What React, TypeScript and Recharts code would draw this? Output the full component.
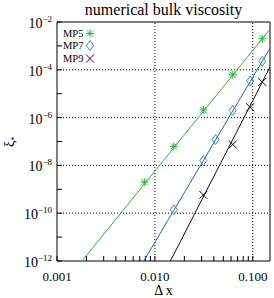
import React from 'react';
import { ReferenceLine, Scatter, ScatterChart, XAxis, YAxis } from 'recharts';

// measured points (Δx, ξ*)
const mp5X = [0.125, 0.0625, 0.03125, 0.015625, 0.0078125];
const mp5Y = [2.0e-3, 6.2e-5, 2.1e-6, 6.3e-8, 2.0e-9];
const mp7X = [0.125, 0.094, 0.0625, 0.0417, 0.03125, 0.015625];
const mp7Y = [2.3e-4, 3.4e-5, 2.0e-6, 1.2e-7, 1.6e-8, 1.4e-10];
const mp9X = [0.125, 0.094, 0.0625, 0.03125];
const mp9Y = [3.1e-5, 2.7e-6, 7.5e-8, 5.8e-10];

// fitted lines, ends read where they meet the frame
const fit5X = [0.0018, 0.15];
const fit5Y = [1e-12, 5e-3];
const fit7X = [0.0077, 0.15];
const fit7Y = [1e-12, 8e-4];
const fit9X = [0.0144, 0.15];
const fit9Y = [1e-12, 1.3e-4];

const xMajor = [0.001, 0.01, 0.1];
const xLabels = ['0.001', '0.010', '0.100'];
const xMinor = [0.002, 0.003, 0.004, 0.005, 0.006, 0.007, 0.008, 0.009, 0.02, 0.03, 0.04, 0.05, 0.06, 0.07, 0.08, 0.09];
const yTicks = [1e-12, 1e-11, 1e-10, 1e-9, 1e-8, 1e-7, 1e-6, 1e-5, 1e-4, 1e-3, 1e-2];
const xGrid = [0.01, 0.1];
const yGrid = [1e-10, 1e-8, 1e-6, 1e-4];
const seriesNames = ['MP5', 'MP7', 'MP9'];

const GREEN = '#30b048';
const BLUE = '#2f62a0';
const BLUE_MARK = '#4f80c0';
const BLACK = '#111';

const W = 274;
const H = 298;
const TICK = -5; // negative: tick marks point into the plot

const toPts = (xs: number[], ys: number[]) => xs.map((x, i) => ({ x, y: ys[i] }));

const Star = ({ cx, cy, color }: any) => (
  <g stroke={color} strokeWidth={1}>
    <line x1={cx - 4} x2={cx + 4} y1={cy} y2={cy} />
    <line x1={cx} x2={cx} y1={cy - 4} y2={cy + 4} />
    <line x1={cx - 3} x2={cx + 3} y1={cy - 3} y2={cy + 3} />
    <line x1={cx - 3} x2={cx + 3} y1={cy + 3} y2={cy - 3} />
  </g>
);
const Diamond = ({ cx, cy, color }: any) => (
  <polygon
    points={`${cx},${cy - 5} ${cx + 3.5},${cy} ${cx},${cy + 5} ${cx - 3.5},${cy}`}
    fill="none"
    stroke={color}
    strokeWidth={1}
  />
);
const Cross = ({ cx, cy, color }: any) => (
  <g stroke={color} strokeWidth={1}>
    <line x1={cx - 4} x2={cx + 4} y1={cy - 4} y2={cy + 4} />
    <line x1={cx - 4} x2={cx + 4} y1={cy + 4} y2={cy - 4} />
  </g>
);

const markers: Record<string, { M: any; color: string }> = {
  MP5: { M: Star, color: GREEN },
  MP7: { M: Diamond, color: BLUE_MARK },
  MP9: { M: Cross, color: BLACK }
};

// labels only; the tick marks are the axis' own tick lines
const BottomLabel = ({ x, y, payload }: any) => {
  const i = xMajor.indexOf(payload.value);
  if (i < 0) return <g />;
  return (
    <text x={x} y={y + 20} textAnchor="middle" fontSize={13} fill="#000">
      {xLabels[i]}
    </text>
  );
};

const LeftLabel = ({ x, y, payload }: any) => {
  const e = Math.round(Math.log10(payload.value));
  if (e % 2 !== 0) return <g />;
  return (
    <text x={x - 5} y={y + 6} textAnchor="end" fill="#000">
      <tspan fontSize={14}>10</tspan>
      <tspan fontSize={9} dy={-6}>{`\u2212${-e}`}</tspan>
    </text>
  );
};

const YLabel = ({ viewBox }: any) => {
  const cy = viewBox.y + viewBox.height / 2;
  return (
    <text transform={`translate(14,${cy}) rotate(-90)`} textAnchor="middle" fill="#000">
      <tspan fontSize={14}>ξ</tspan>
      <tspan fontSize={9} dy={3}>*</tspan>
    </text>
  );
};

export default function App() {
  return (
    <div style={{ position: 'absolute', left: 0, top: 0, width: W, height: H, fontFamily: '"Liberation Serif", serif' }}>
      <ScatterChart width={W} height={H} margin={{ top: 21, right: 3, bottom: 0, left: 0 }}>
        <XAxis
          dataKey="x"
          type="number"
          scale="log"
          domain={[0.001, 0.15]}
          allowDataOverflow
          ticks={[...xMajor, ...xMinor]}
          interval={0}
          tickSize={TICK}
          tickMargin={-TICK}
          tick={<BottomLabel />}
          height={37}
          stroke="#000"
          label={{ value: '\u0394 x', position: 'insideBottom', offset: 3, fontSize: 14, fill: '#000' }}
        />
        <XAxis
          xAxisId="top"
          orientation="top"
          dataKey="x"
          type="number"
          scale="log"
          domain={[0.001, 0.15]}
          allowDataOverflow
          ticks={[...xMajor, ...xMinor]}
          interval={0}
          tickSize={TICK}
          tick={false}
          height={1}
          stroke="#000"
          label={{ value: 'numerical bulk viscosity', position: 'top', offset: 6, fontSize: 16, fill: '#000' }}
        />
        <YAxis
          dataKey="y"
          type="number"
          scale="log"
          domain={[1e-12, 1e-2]}
          allowDataOverflow
          ticks={yTicks}
          interval={0}
          tickSize={TICK}
          tickMargin={-TICK}
          tick={<LeftLabel />}
          width={57}
          stroke="#000"
          label={{ content: YLabel }}
        />
        <YAxis
          yAxisId="right"
          orientation="right"
          dataKey="y"
          type="number"
          scale="log"
          domain={[1e-12, 1e-2]}
          allowDataOverflow
          ticks={yTicks}
          interval={0}
          tickSize={TICK}
          tick={false}
          width={1}
          stroke="#000"
        />
        {xGrid.map((v) => (
          <ReferenceLine key={`gx${v}`} x={v} stroke="#000" strokeDasharray="1 2" />
        ))}
        {yGrid.map((v) => (
          <ReferenceLine key={`gy${v}`} y={v} stroke="#000" strokeDasharray="1 2" />
        ))}
        <Scatter data={toPts(fit5X, fit5Y)} line={{ stroke: GREEN, strokeWidth: 1 }} shape={() => <g />} legendType="none" isAnimationActive={false} />
        <Scatter data={toPts(fit7X, fit7Y)} line={{ stroke: BLUE, strokeWidth: 1 }} shape={() => <g />} legendType="none" isAnimationActive={false} />
        <Scatter data={toPts(fit9X, fit9Y)} line={{ stroke: BLACK, strokeWidth: 1 }} shape={() => <g />} legendType="none" isAnimationActive={false} />
        <Scatter name="MP5" data={toPts(mp5X, mp5Y)} fill={GREEN} shape={(p: any) => <Star cx={p.cx} cy={p.cy} color={GREEN} />} isAnimationActive={false} />
        <Scatter name="MP7" data={toPts(mp7X, mp7Y)} fill={BLUE_MARK} shape={(p: any) => <Diamond cx={p.cx} cy={p.cy} color={BLUE_MARK} />} isAnimationActive={false} />
        <Scatter name="MP9" data={toPts(mp9X, mp9Y)} fill={BLACK} shape={(p: any) => <Cross cx={p.cx} cy={p.cy} color={BLACK} />} isAnimationActive={false} />
      </ScatterChart>
      <div style={{ position: 'absolute', left: 63, top: 26.5 }}>
        {seriesNames.map((n) => {
          const m = markers[n];
          const M = m.M;
          return (
            <svg key={n} width={36} height={12.5} style={{ display: 'block' }}>
              <text x={0} y={10} fontSize={10.5} fill="#000">{n}</text>
              <M cx={27} cy={6.5} color={m.color} />
            </svg>
          );
        })}
      </div>
    </div>
  );
}
